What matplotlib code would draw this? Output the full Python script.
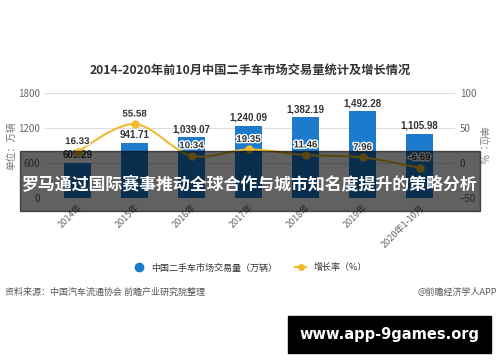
import numpy as np
import matplotlib
matplotlib.use("Agg")
from matplotlib import pyplot as plt
from matplotlib.path import Path
from matplotlib.patches import PathPatch, Rectangle
from matplotlib.lines import Line2D
import matplotlib.patheffects as pe

plt.rcParams['font.family'] = ['Noto Sans CJK SC', 'DejaVu Sans']

# dados
years = ['2014年', '2015年', '2016年', '2017年', '2018年', '2019年', '2020年1-10月']
volume = [605.29, 941.71, 1039.07, 1240.09, 1382.19, 1492.28, 1105.98]
vol_labels = ['605.29', '941.71', '1,039.07', '1,240.09', '1,382.19', '1,492.28', '1,105.98']
growth = [16.33, 55.58, 10.34, 19.35, 11.46, 7.96, -6.69]
left_ticks = [0, 600, 1200, 1800]
right_ticks = [-50, 0, 50, 100]

bar_c = '#1c7bcc'
line_c = '#f0bb2e'
num_font = 'Liberation Sans'

fig = plt.figure(figsize=(5, 3.62), dpi=100)
ax = fig.add_axes([0.09, 0.453, 0.82, 0.29])
ax2 = ax.twinx()

x = np.arange(len(years))
ax.bar(x, volume, width=0.47, color=bar_c, zorder=2)
for xi, v, s in zip(x, volume, vol_labels):
    ax.annotate(s, (xi, v), xytext=(0, 2), textcoords='offset points',
                ha='center', va='bottom', fontsize=7, color='#333333',
                fontweight='bold', family=num_font)

ax.set_ylim(0, 1800)
ax.set_yticks(left_ticks)
ax.set_xlim(-0.57, 6.62)
ax.grid(axis='y', color='#dddddd', lw=0.8, zorder=0)
ax.set_axisbelow(True)
for sp in ax.spines.values():
    sp.set_visible(False)
for sp in ax2.spines.values():
    sp.set_visible(False)
ax.tick_params(length=0, labelsize=7, colors='#666666')
ax.set_xticks(x)
ax.set_xticklabels(years, rotation=45, ha='right', rotation_mode='anchor', fontsize=6.5)
ax.set_ylabel('单位：万辆', fontsize=7, color='#777777', labelpad=1)

ax2.set_ylim(-50, 100)
ax2.set_yticks(right_ticks)
ax2.tick_params(length=0, labelsize=7, colors='#666666')
ax2.set_ylabel('单位：%', fontsize=7, color='#777777', rotation=-90, labelpad=8)

# curva suavizada (catmull-rom -> bezier)
pts = np.column_stack([x, growth]).astype(float)
verts = [tuple(pts[0])]
codes = [Path.MOVETO]
for i in range(len(pts) - 1):
    p0 = pts[i - 1] if i > 0 else pts[i]
    p1 = pts[i]
    p2 = pts[i + 1]
    p3 = pts[i + 2] if i + 2 < len(pts) else pts[i + 1]
    c1 = p1 + (p2 - p0) / 6
    c2 = p2 - (p3 - p1) / 6
    verts += [tuple(c1), tuple(c2), tuple(p2)]
    codes += [Path.CURVE4] * 3
ax2.add_patch(PathPatch(Path(verts, codes), fill=False, edgecolor=line_c, lw=1.5, zorder=3))
ax2.plot(x, growth, 'o', color=line_c, ms=5, zorder=4)
for xi, g in zip(x, growth):
    ax2.annotate('%.2f' % g, (xi, g), xytext=(0, 4), textcoords='offset points',
                 ha='center', va='bottom', fontsize=7, color='#333333', fontweight='bold',
                 family=num_font,
                 path_effects=[pe.withStroke(linewidth=2, foreground='white')], zorder=5)

fig.text(0.5, 0.807, '2014-2020年前10月中国二手车市场交易量统计及增长情况',
         ha='center', va='center', fontsize=8.8, fontweight='bold', color='#333333')

handles = [Line2D([], [], marker='o', ls='none', color=bar_c, ms=6),
           Line2D([], [], marker='o', color=line_c, ms=4, lw=1.5)]
fig.legend(handles, ['中国二手车市场交易量（万辆）', '增长率（%）'], loc='center',
           bbox_to_anchor=(0.5, 0.26), ncol=2, frameon=False, fontsize=6.5,
           handlelength=1.2, columnspacing=2.0, labelcolor='#333333')

fig.text(0.01, 0.193, '资料来源：中国汽车流通协会 前瞻产业研究院整理', fontsize=6.5,
         color='#555555', va='center')
fig.text(0.994, 0.193, '@前瞻经济学人APP', fontsize=6.5, color='#555555',
         va='center', ha='right')

# faixa escura por cima
fig.patches.append(Rectangle((0.04, 0.417), 0.92, 0.166, transform=fig.transFigure,
                             color='black', alpha=0.62, zorder=10))
fig.text(0.5, 0.488, '罗马通过国际赛事推动全球合作与城市知名度提升的策略分析',
         ha='center', va='center', fontsize=12.2, fontweight='bold', color='white', zorder=11)

fig.patches.append(Rectangle((0.576, 0.025), 0.406, 0.102, transform=fig.transFigure,
                             color='black', zorder=10))
fig.text(0.779, 0.076, 'www.app-9games.org', ha='center', va='center', fontsize=10.5,
         fontweight='bold', color='white', family='DejaVu Sans', zorder=11)

fig.savefig('out.png', dpi=100)
